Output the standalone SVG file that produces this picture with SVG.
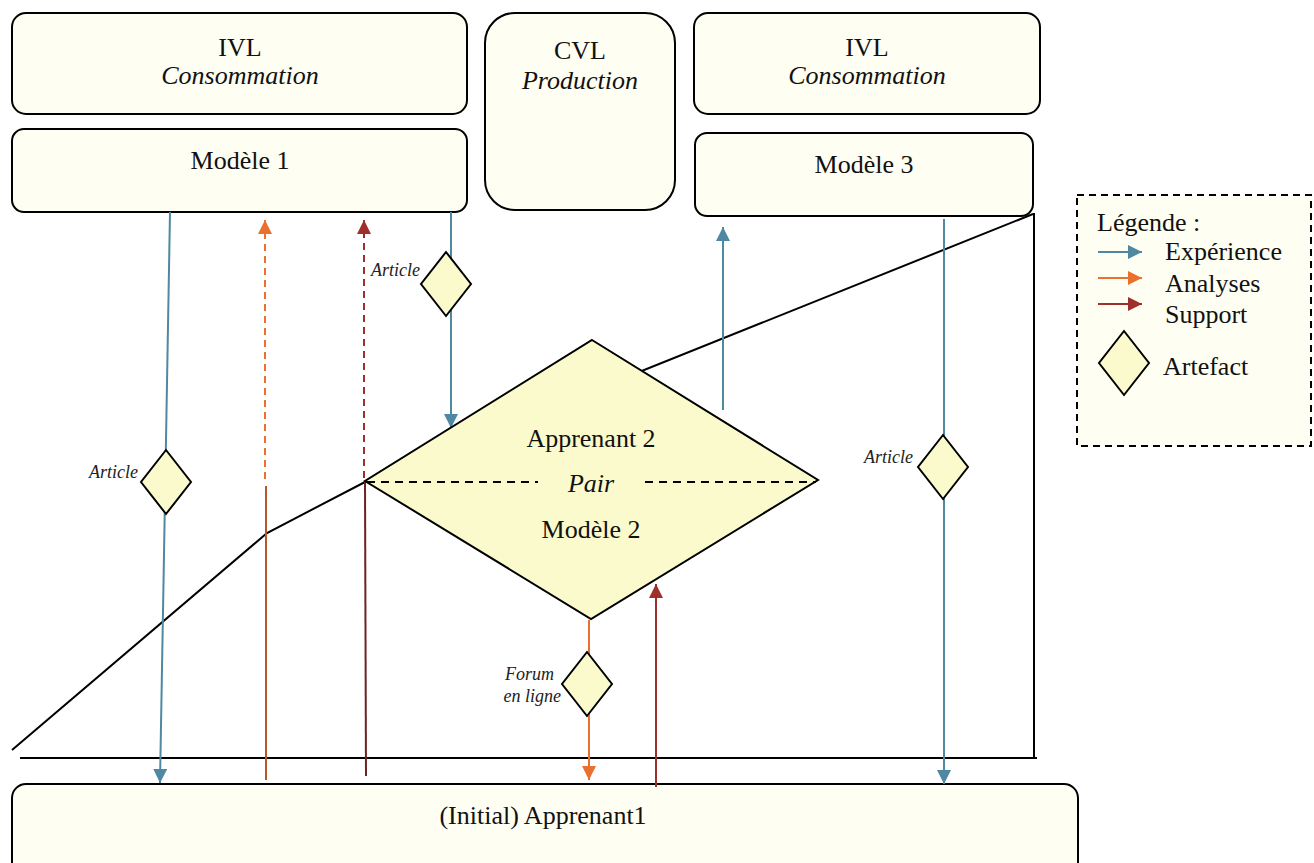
<svg xmlns="http://www.w3.org/2000/svg" width="1314" height="863" viewBox="0 0 1314 863">
<style>
.box{fill:#FEFEF2;stroke:#000;stroke-width:2}
.dia{fill:#FAFACC;stroke:#000;stroke-width:2}
.t{font-family:"Liberation Serif",serif;font-size:26px;fill:#111;text-anchor:middle}
.i{font-style:italic}
.lab{font-family:"Liberation Serif",serif;font-size:18px;font-style:italic;fill:#222;text-anchor:end}
.blk{stroke:#000;stroke-width:2;fill:none}
.blue{stroke:#4E88A2;stroke-width:2;fill:none}
.orange{stroke:#EA7030;stroke-width:2;fill:none}
.red{stroke:#9E2F2A;stroke-width:2;fill:none}
.dash{stroke-dasharray:7,5}
</style>
<defs>
<marker id="ab" viewBox="0 0 10 10" refX="10" refY="5" markerWidth="14" markerHeight="14" markerUnits="userSpaceOnUse" orient="auto"><path d="M0,0 L10,5 L0,10 z" fill="#4E88A2"/></marker>
<marker id="ao" viewBox="0 0 10 10" refX="10" refY="5" markerWidth="14" markerHeight="14" markerUnits="userSpaceOnUse" orient="auto"><path d="M0,0 L10,5 L0,10 z" fill="#EA7030"/></marker>
<marker id="ar" viewBox="0 0 10 10" refX="10" refY="5" markerWidth="14" markerHeight="14" markerUnits="userSpaceOnUse" orient="auto"><path d="M0,0 L10,5 L0,10 z" fill="#9E2F2A"/></marker>
</defs>
<rect width="1314" height="863" fill="#fff"/>

<g id="ivl1"><rect class="box" x="12" y="13" width="455" height="101" rx="14"/><text class="t" x="240" y="56">IVL</text><text class="t i" x="240" y="84">Consommation</text></g>
<g id="modele1"><rect class="box" x="12" y="129" width="455" height="83" rx="12"/><text class="t" x="240" y="169">Modèle 1</text></g>
<g id="cvl"><rect class="box" x="485" y="13" width="190" height="197" rx="30"/><text class="t" x="580" y="59">CVL</text><text class="t i" x="580" y="89">Production</text></g>
<g id="ivl2"><rect class="box" x="694" y="13" width="346" height="101" rx="14"/><text class="t" x="867" y="56">IVL</text><text class="t i" x="867" y="84">Consommation</text></g>
<g id="modele3"><rect class="box" x="695" y="133" width="338" height="83" rx="12"/><text class="t" x="864" y="173">Modèle 3</text></g>
<g id="apprenant1"><rect class="box" x="12" y="784" width="1066" height="100" rx="14"/><text class="t" x="543" y="824">(Initial) Apprenant1</text></g>

<g id="frame">
<polyline class="blk" points="12,750 267,533 365,482 1033,214"/>
<line class="blk" x1="1034" y1="213" x2="1034" y2="758"/>
<line class="blk" x1="20" y1="758" x2="1037" y2="758"/>
</g>

<g id="connectors">
<line class="blue" x1="170" y1="212" x2="160" y2="783" marker-end="url(#ab)"/>
<line class="orange dash" x1="265" y1="479" x2="265" y2="220" marker-end="url(#ao)"/>
<line stroke="#B5562E" stroke-width="2" x1="266" y1="486" x2="266" y2="780"/>
<line class="red dash" x1="364" y1="478" x2="364" y2="220" marker-end="url(#ar)"/>
<line stroke="#6E2222" stroke-width="2" x1="365" y1="482" x2="366" y2="776"/>
<line class="blue" x1="451" y1="212" x2="451" y2="428" marker-end="url(#ab)"/>
<line class="blue" x1="723" y1="410" x2="723" y2="227" marker-end="url(#ab)"/>
<line class="blue" x1="944" y1="219" x2="944" y2="784" marker-end="url(#ab)"/>
<line class="orange" x1="589" y1="620" x2="589" y2="780" marker-end="url(#ao)"/>
<line class="red" x1="656" y1="787" x2="656" y2="584" marker-end="url(#ar)"/>
</g>

<g id="pair">
<polygon class="dia" points="592,340 818,480 591,619 365,481"/>
<line class="blk" stroke-dasharray="8,6" x1="367" y1="482" x2="538" y2="482"/>
<line class="blk" stroke-dasharray="8,6" x1="645" y1="482" x2="816" y2="482"/>
<text class="t" x="591" y="447">Apprenant 2</text>
<text class="t i" x="591" y="492">Pair</text>
<text class="t" x="591" y="538">Modèle 2</text>
</g>

<g id="art1"><polygon class="dia" points="166,450 191,482 166,514 141,482"/><text class="lab" x="138" y="478">Article</text></g>
<g id="art2"><polygon class="dia" points="446,252 471,284 446,316 421,284"/><text class="lab" x="420" y="276">Article</text></g>
<g id="art3"><polygon class="dia" points="943,435 968,467 943,499 918,467"/><text class="lab" x="913" y="463">Article</text></g>
<g id="art4"><polygon class="dia" points="587,652 612,684 587,716 562,684"/><text class="lab" x="554" y="680">Forum</text><text class="lab" x="561" y="702">en ligne</text></g>

<g id="legende">
<rect x="1077" y="195" width="234" height="251" fill="#FEFEF2" stroke="#000" stroke-width="2" stroke-dasharray="7,5"/>
<text class="t" style="text-anchor:start" x="1097" y="231">Légende :</text>
<line class="blue" x1="1098" y1="252" x2="1142" y2="252" marker-end="url(#ab)"/>
<line class="orange" x1="1098" y1="278" x2="1142" y2="278" marker-end="url(#ao)"/>
<line class="red" x1="1098" y1="304" x2="1142" y2="304" marker-end="url(#ar)"/>
<text class="t" style="text-anchor:start" x="1165" y="260">Expérience</text>
<text class="t" style="text-anchor:start" x="1165" y="292">Analyses</text>
<text class="t" style="text-anchor:start" x="1165" y="323">Support</text>
<polygon class="dia" points="1124,331 1149,363 1124,395 1099,363"/>
<text class="t" style="text-anchor:start" x="1163" y="375">Artefact</text>
</g>
</svg>
